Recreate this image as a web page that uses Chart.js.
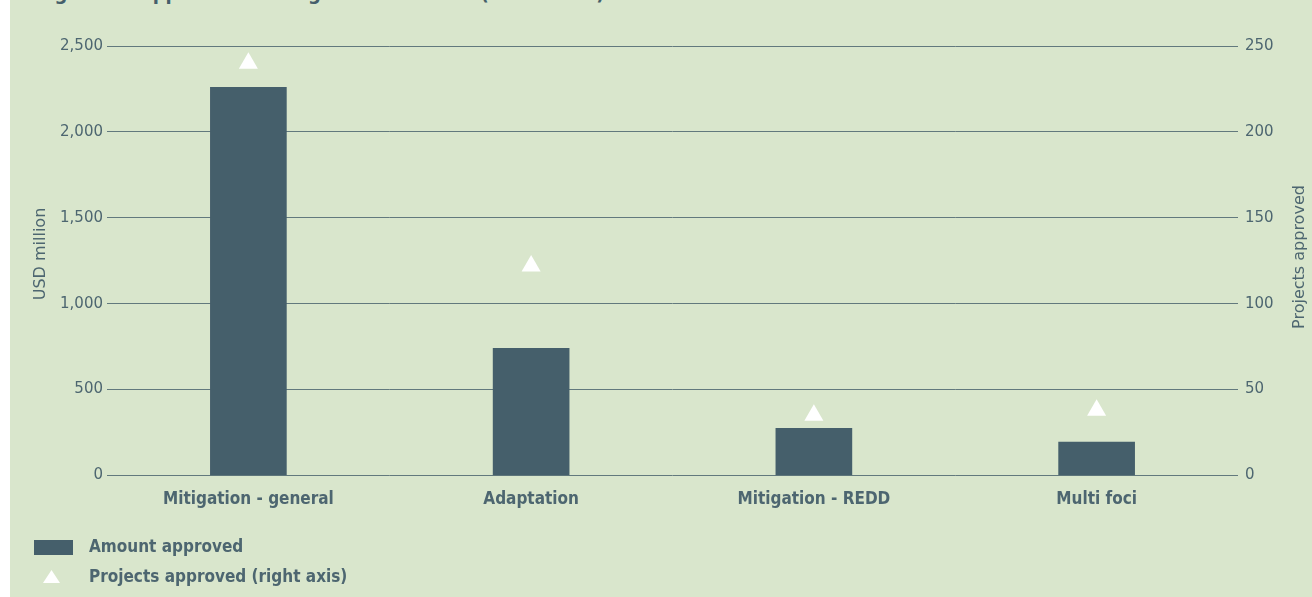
<!DOCTYPE html>
<html>
<head>
<meta charset="utf-8">
<script src="https://cdn.jsdelivr.net/npm/chart.js@4.4.1/dist/chart.umd.min.js"></script>
<style>
  html, body { margin: 0; padding: 0; background: #ffffff; }
  #wrap { position: absolute; left: 10px; top: 0; width: 1302px; height: 597px; background: #d9e6cc; overflow: hidden; }
  #title { position: absolute; left: 26px; top: -19px; font: bold 20px "DejaVu Sans Condensed", "DejaVu Sans", sans-serif; color: #455f6b; white-space: pre; }
  #chartBox { position: absolute; left: 0; top: 0; width: 1302px; height: 597px; }
</style>
</head>
<body>
<div id="wrap">
  <div id="title">Figure 3   Approved funding across themes (2003-2013)</div>
  <div id="chartBox"><canvas id="myChart"></canvas></div>
</div>
<script>
  const categories = ["Mitigation - general", "Adaptation", "Mitigation - REDD", "Multi foci"];
  const amountApproved = [2260, 740, 275, 195];     // USD million, left axis
  const projectsApproved = [240, 122, 35, 38];      // count, right axis
  const leftTicks = [0, 500, 1000, 1500, 2000, 2500];
  const rightTicks = [0, 50, 100, 150, 200, 250];

  const textColor = "#4d6670";
  const barColor = "#455f6b";
  const gridColor = "#62797d";
  const labelFont = { family: "'DejaVu Sans Condensed', 'DejaVu Sans', sans-serif", size: 17, weight: "bold" };
  const tickFont = { family: "'DejaVu Sans', sans-serif", size: 15 };
  const axisTitleFont = { family: "'DejaVu Sans', sans-serif", size: 16 };

  //stacked legend under the axis, built from the datasets themselves
  const stackedLegend = {
    id: "stackedLegend",
    afterDraw: c => {
      const ctx = c.ctx;
      ctx.save();
      ctx.font = `${labelFont.weight} ${labelFont.size}px ${labelFont.family}`;
      ctx.textBaseline = "middle";
      c.data.datasets.forEach((ds, i) => {
        const y = 548 + i * 30;
        ctx.fillStyle = ds.backgroundColor;
        if (ds.type === "bar") {
          ctx.fillRect(24, y - 8, 39, 15);
        } else {
          ctx.beginPath();
          ctx.moveTo(41.5, y - 8);
          ctx.lineTo(50, y + 5);
          ctx.lineTo(33, y + 5);
          ctx.closePath();
          ctx.fill();
        }
        ctx.fillStyle = textColor;
        ctx.fillText(ds.label, 79, y);
      });
      ctx.restore();
    }
  };

  //both axis titles read bottom to top, so draw them here
  const axisTitles = {
    id: "axisTitles",
    afterDraw: c => {
      const ctx = c.ctx;
      const spots = [["y", 31, 254], ["y1", 1290, 257]];
      ctx.save();
      ctx.font = `${axisTitleFont.size}px ${axisTitleFont.family}`;
      ctx.fillStyle = textColor;
      ctx.textAlign = "center";
      ctx.textBaseline = "middle";
      spots.forEach(([id, x, y]) => {
        ctx.save();
        ctx.translate(x, y);
        ctx.rotate(-Math.PI / 2);
        ctx.fillText(c.options.scales[id].title.text, 0, 0);
        ctx.restore();
      });
      ctx.restore();
    }
  };

  const myChart = document.getElementById("myChart");
  new Chart(myChart, {
    data: {
      labels: categories,
      datasets: [
        {
          type: "bar", label: "Amount approved", data: amountApproved, yAxisID: "y",
          backgroundColor: barColor, barThickness: 76, order: 1,
        },
        {
          type: "line", label: "Projects approved (right axis)", data: projectsApproved, yAxisID: "y1",
          showLine: false, pointStyle: "triangle", pointRadius: 11, pointHoverRadius: 11,
          backgroundColor: "#ffffff", pointBackgroundColor: "#ffffff", pointBorderWidth: 0, order: 0,
        },
      ]
    },
    options: {
      responsive: true,
      maintainAspectRatio: false,
      animation: false,
      layout: { padding: { top: 46, left: 0, right: 0, bottom: 0 } },
      plugins: { legend: { display: false }, tooltip: { enabled: false } },
      scales: {
        x: {
          offset: true,
          grid: { display: false },
          border: { display: false },
          ticks: { color: textColor, font: labelFont, padding: 6, maxRotation: 0 },
          afterFit: s => { s.height = 121.5; },
        },
        y: {
          position: "left",
          min: 0, max: 2500,
          afterBuildTicks: s => { s.ticks = leftTicks.map(v => ({ value: v })); },
          ticks: { color: textColor, font: tickFont, padding: 4, callback: v => v.toLocaleString("en-US") },
          grid: { color: gridColor, lineWidth: 1, drawTicks: false },
          border: { display: false },
          title: { display: false, text: "USD million" },
          afterFit: s => { s.width = 97; },
        },
        y1: {
          position: "right",
          min: 0, max: 250,
          afterBuildTicks: s => { s.ticks = rightTicks.map(v => ({ value: v })); },
          ticks: { color: textColor, font: tickFont, padding: 7 },
          grid: { display: false, drawTicks: false },
          border: { display: false },
          title: { display: false, text: "Projects approved" },
          afterFit: s => { s.width = 74; },
        },
      },
    },
    plugins: [stackedLegend, axisTitles],
  });
</script>
</body>
</html>
